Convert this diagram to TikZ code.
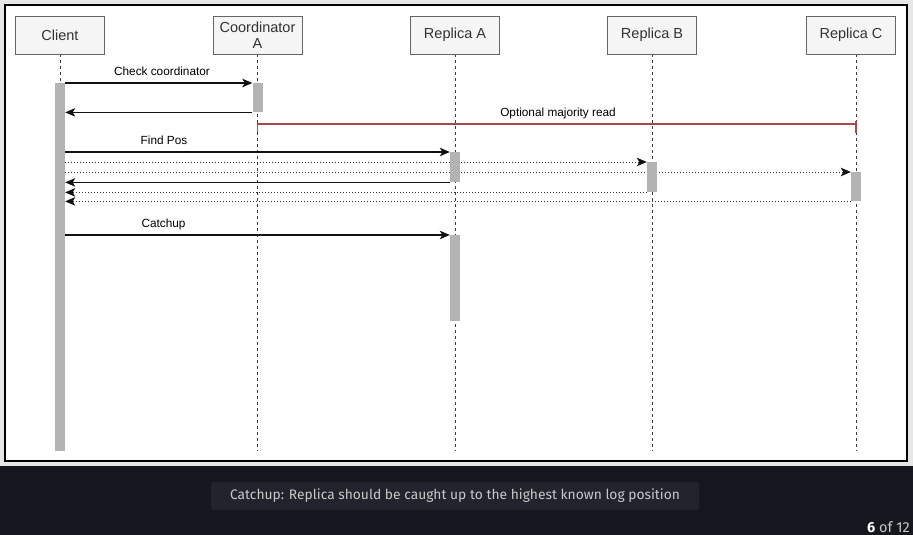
\documentclass[tikz,border=0pt]{standalone}
\usepackage{fontspec}
\setmainfont{Liberation Sans}
\newfontfamily\capfont{Fira Sans}
\usetikzlibrary{arrows.meta,calc}
\definecolor{panelgray}{HTML}{E6E6E6}
\definecolor{boxfill}{HTML}{F5F5F5}
\definecolor{boxline}{HTML}{666666}
\definecolor{boxtext}{HTML}{333333}
\definecolor{barfill}{HTML}{B3B3B3}
\definecolor{lifecol}{HTML}{3A3A3A}
\definecolor{msgcol}{HTML}{111111}
\definecolor{dotcol}{HTML}{333333}
\definecolor{redline}{HTML}{A84848}
\definecolor{darkbg}{HTML}{16171E}
\definecolor{capbox}{HTML}{22242D}
\definecolor{captext}{HTML}{C8C8C8}
\pgfdeclarelayer{bg}
\pgfdeclarelayer{lines}
\pgfsetlayers{bg,lines,main}
\tikzset{
  headbox/.style={draw=boxline, fill=boxfill, line width=0.9pt, minimum width=89pt, minimum height=38pt,
    inner sep=0pt, text=boxtext, font=\fontsize{14.5}{16.5}\selectfont, align=center},
  actbar/.style={fill=barfill, draw=none, minimum width=10pt, inner sep=0pt, anchor=north},
  lifeline/.style={draw=lifecol, line width=1pt, dash pattern=on 3pt off 3pt},
  msg/.style={draw=msgcol, line width=1.1pt, -{Stealth[length=10pt,width=8.5pt,inset=2.5pt,color=msgcol]}},
  dotmsg/.style={draw=dotcol, line width=0.9pt, dash pattern=on 1pt off 2pt,
    -{Stealth[length=10pt,width=8.5pt,inset=2.5pt,color=msgcol]}},
  msglabel/.style={font=\fontsize{11.8}{13}\selectfont, text=black, inner sep=0pt},
}
\begin{document}
\begin{tikzpicture}[x=1pt,y=-1pt]
\useasboundingbox (0,0) rectangle (913,535);
\begin{pgfonlayer}{bg}
  \fill[darkbg] (0,0) rectangle (913,535);
  \fill[panelgray] (0,0) rectangle (913,466);
  \draw[black, line width=1.2pt, fill=white] (5,5) rectangle (907,461);
\end{pgfonlayer}

% heads
\node[headbox] (client) at (60,35) {Client};
\node[headbox] (coord) at (257.5,35) {Coordinator\\A};
\node[headbox] (repA) at (455,35) {Replica A};
\node[headbox] (repB) at (652,35) {Replica B};
\node[headbox] (repC) at (851,35) {Replica C};
\coordinate (repCtop) at (856,54);

% lifeline ends
\coordinate (endy) at (0,451);
\begin{pgfonlayer}{lines}
  \draw[lifeline] (client.south) -- (client.south |- endy);
  \draw[lifeline] (coord.south) -- (coord.south |- endy);
  \draw[lifeline] (repA.south) -- (repA.south |- endy);
  \draw[lifeline] (repB.south) -- (repB.south |- endy);
  \draw[lifeline] (repCtop) -- (repCtop |- endy);
\end{pgfonlayer}

% activation bars
\node[actbar, minimum height=368pt] (cbar) at (60,83) {};
\node[actbar, minimum height=29pt] (kbar) at (257.5,83) {};
\node[actbar, minimum height=30pt] (abar1) at (455,152) {};
\node[actbar, minimum height=30pt] (bbar) at (652,162) {};
\node[actbar, minimum height=29pt] (cbarC) at (856,172) {};
\node[actbar, minimum height=86pt] (abar2) at (455,235) {};

\begin{pgfonlayer}{lines}
  % check coordinator
  \draw[msg] (cbar.east |- kbar.north) -- (kbar.north west);
  \draw[msg] (kbar.south west) -- (cbar.east |- kbar.south);
  % optional majority read
  \coordinate (rl) at (257.5,124);
  \coordinate (rr) at (856,124);
  \draw[redline, line width=1.1pt] ($(rl)+(0,8)$) -- (rl) -- (rr);
  \draw[redline, line width=1.1pt] ($(rr)+(0,-3)$) -- ($(rr)+(0,9)$);
  % find pos
  \draw[msg] (cbar.east |- abar1.north) -- (abar1.north west);
  \draw[dotmsg] (cbar.east |- bbar.north) -- (bbar.north west);
  \draw[dotmsg] (cbar.east |- cbarC.north) -- (cbarC.north west);
  \draw[msg] (abar1.south west) -- (cbar.east |- abar1.south);
  \draw[dotmsg] (bbar.south west) -- (cbar.east |- bbar.south);
  \draw[dotmsg] (cbarC.south west) -- (cbar.east |- cbarC.south);
  % catchup
  \draw[msg] (cbar.east |- abar2.north) -- (abar2.north west);
\end{pgfonlayer}

% labels
\node[msglabel] (l1) at (162,71.5) {Check coordinator};
\node[msglabel] (l2) at (558,113.5) {Optional majority read};
\node[msglabel] (l3) at (164,140.5) {Find Pos};
\node[msglabel] (l4) at (163.5,224.5) {Catchup};

% caption
\node[fill=capbox, rounded corners=2pt, minimum width=488pt, minimum height=28pt, inner sep=0pt,
      text=captext, font=\capfont\fontsize{13.8}{15}\selectfont] (cap) at (455,496)
  {Catchup: Replica should be caught up to the highest known log position};
\node[anchor=east, inner sep=0pt, font=\capfont\fontsize{14.5}{16}\selectfont, text=captext] (pg) at (910,527)
  {\textcolor{white}{\bfseries 6} of 12};
\end{tikzpicture}
\end{document}
